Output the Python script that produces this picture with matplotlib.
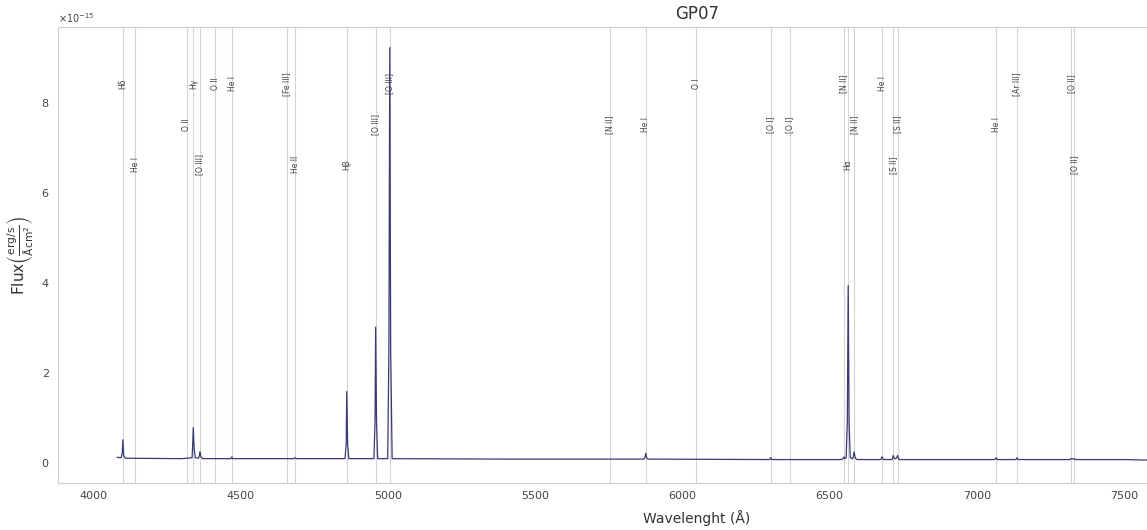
import matplotlib
matplotlib.use("Agg")
import matplotlib.pyplot as plt
import numpy as np

# GP07 spectrum, flux in erg/s/A/cm^2 (units of 1e-15)
wave = [4082, 4095, 4099, 4101, 4104, 4110, 4300, 4336, 4338, 4340, 4343, 4347,
        4358, 4361, 4363, 4366, 4372, 4468, 4471, 4474, 4682, 4686, 4690,
        4855, 4859, 4861, 4864, 4868, 4953, 4957, 4959, 4962, 4966,
        5000, 5004, 5007, 5010, 5015, 5400, 5870, 5874, 5876, 5879, 5884,
        6296, 6300, 6304, 6540, 6545, 6548, 6551, 6556, 6560, 6563, 6566,
        6570, 6579, 6583, 6587, 6592, 6674, 6678, 6682, 6712, 6716, 6720,
        6724, 6727, 6731, 6735, 7061, 7065, 7069, 7132, 7136, 7140,
        7316, 7320, 7325, 7330, 7334, 7500, 7560, 8020]
flux = [0.11, 0.10, 0.20, 0.50, 0.14, 0.09, 0.08, 0.10, 0.40, 0.77, 0.30, 0.10,
        0.09, 0.15, 0.23, 0.12, 0.08, 0.08, 0.12, 0.08, 0.08, 0.10, 0.08,
        0.08, 0.40, 1.57, 0.40, 0.08, 0.08, 0.90, 3.00, 0.90, 0.08,
        0.08, 2.50, 9.20, 2.50, 0.08, 0.07, 0.07, 0.12, 0.20, 0.10, 0.07,
        0.06, 0.10, 0.06, 0.06, 0.08, 0.12, 0.08, 0.10, 0.90, 3.92, 0.90,
        0.10, 0.08, 0.23, 0.10, 0.06, 0.06, 0.12, 0.06, 0.06, 0.15, 0.08,
        0.08, 0.10, 0.15, 0.06, 0.06, 0.10, 0.06, 0.06, 0.10, 0.06,
        0.06, 0.08, 0.07, 0.08, 0.06, 0.06, 0.05, 0.06]

# identified emission lines
line_wave = [4101.7, 4143.8, 4317.1, 4340.5, 4363.2, 4414.9, 4471.5, 4658.1,
             4685.7, 4861.3, 4958.9, 5006.8, 5754.6, 5875.6, 6046.4, 6300.3,
             6363.8, 6548.0, 6562.8, 6583.4, 6678.2, 6716.4, 6730.8, 7065.2,
             7135.8, 7319.9, 7330.2]
line_name = ["Hδ", "He I", "O II", "Hγ", "[O III]", "O II", "He I", "[Fe III]",
             "He II", "Hβ", "[O III]", "[O III]", "[N II]", "He I", "O I", "[O I]",
             "[O I]", "[N II]", "Hα", "[N II]", "He I", "[S II]", "[S II]", "He I",
             "[Ar III]", "[O II]", "[O II]"]
label_row = [0, 2, 1, 0, 2, 0, 0, 0,
             2, 2, 1, 0, 1, 1, 0, 1,
             1, 0, 2, 1, 0, 2, 1, 1,
             0, 0, 2]
row_y = [8.4e-15, 7.5e-15, 6.6e-15]

fig = plt.figure(figsize=(11.47, 5.30), dpi=100)
ax = fig.add_axes([0.0506, 0.0887, 1.114, 0.8605])

ax.plot(wave, np.array(flux) * 1e-15, color="#3a3a74", lw=0.9, zorder=3)

for w, name, r in zip(line_wave, line_name, label_row):
    ax.axvline(w, color="#d4d4d4", lw=0.8, zorder=1)
    ax.text(w, row_y[r], name, rotation=90, ha="center", va="center",
            fontsize=5.5, color="#444444", zorder=2)

ax.set_xlim(3881, 8218)
ax.set_ylim(-0.46e-15, 9.66e-15)
ax.set_yticks([0, 2e-15, 4e-15, 6e-15, 8e-15])
ax.set_xticks([4000, 4500, 5000, 5500, 6000, 6500, 7000, 7500])
ax.ticklabel_format(axis="y", style="sci", scilimits=(0, 0), useMathText=True)
ax.yaxis.get_offset_text().set_fontsize(7)
ax.yaxis.get_offset_text().set_color("#555555")

ax.tick_params(length=0, labelsize=8, labelcolor="#444444", pad=6)
for s in ax.spines.values():
    s.set_color("#cccccc")
    s.set_linewidth(0.8)

ax.set_title("GP07", fontsize=12, color="#333333")
ax.set_xlabel("Wavelenght (Å)", fontsize=10, color="#333333", labelpad=6)
ax.set_ylabel(r"Flux$\left(\frac{\mathrm{erg/s}}{\mathrm{\AA cm^2}}\right)$",
              fontsize=11, color="#333333")

fig.savefig("out.png", dpi=100)
